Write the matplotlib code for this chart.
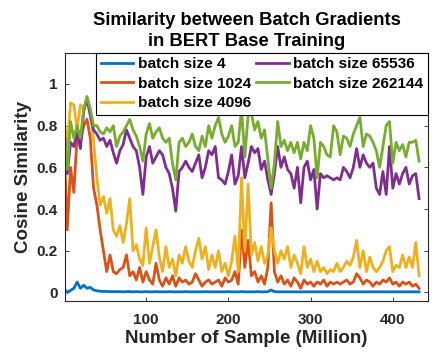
import numpy as np
import matplotlib.pyplot as plt

plt.rcParams['font.family'] = ['Liberation Sans', 'DejaVu Sans']
plt.rcParams['font.weight'] = 'bold'

# samples (million), one reading every 4 million
samples = list(range(0, 433, 4))

bs4 = [0.02, 0.0, 0.01, 0.02, 0.05, 0.02, 0.035, 0.02, 0.025, 0.012,
       0.008, 0.006, 0.005, 0.005, 0.004, 0.004, 0.004, 0.004, 0.003, 0.004,
       0.004, 0.003, 0.004, 0.003, 0.003, 0.004, 0.003, 0.003, 0.004, 0.003,
       0.003, 0.003, 0.004, 0.003, 0.003, 0.003, 0.003, 0.004, 0.003, 0.003,
       0.003, 0.003, 0.003, 0.004, 0.003, 0.003, 0.003, 0.003, 0.003, 0.003,
       0.004, 0.003, 0.003, 0.003, 0.004, 0.003, 0.003, 0.003, 0.003, 0.004,
       0.003, 0.003, 0.004, 0.012, 0.004, 0.003, 0.003, 0.003, 0.003, 0.003,
       0.003, 0.003, 0.003, 0.003, 0.003, 0.003, 0.003, 0.003, 0.003, 0.003,
       0.003, 0.003, 0.003, 0.003, 0.003, 0.003, 0.003, 0.003, 0.003, 0.003,
       0.003, 0.003, 0.003, 0.003, 0.003, 0.003, 0.003, 0.003, 0.003, 0.003,
       0.003, 0.003, 0.003, 0.003, 0.003, 0.003, 0.003, 0.003, 0.003]

bs1024 = [0.72, 0.3, 0.6, 0.48, 0.75, 0.72, 0.8, 0.83, 0.74, 0.5,
          0.42, 0.3, 0.2, 0.1, 0.18, 0.1, 0.09, 0.11, 0.12, 0.18,
          0.08, 0.1, 0.06, 0.12, 0.05, 0.1, 0.06, 0.04, 0.14, 0.06,
          0.03, 0.07, 0.04, 0.08, 0.03, 0.07, 0.05, 0.06, 0.04, 0.05,
          0.09, 0.06, 0.03, 0.05, 0.06, 0.04, 0.05, 0.06, 0.03, 0.07,
          0.05, 0.06, 0.1, 0.04, 0.3, 0.12, 0.25, 0.08, 0.1, 0.05,
          0.08, 0.04, 0.12, 0.43, 0.1, 0.05, 0.08, 0.04, 0.06, 0.03,
          0.07, 0.05, 0.02, 0.06, 0.04, 0.05, 0.03, 0.05, 0.04, 0.06,
          0.03, 0.05, 0.04, 0.05, 0.04, 0.05, 0.06, 0.04, 0.05, 0.09,
          0.07, 0.04, 0.06, 0.05, 0.03, 0.05, 0.04, 0.06, 0.05, 0.07,
          0.04, 0.05, 0.03, 0.05, 0.04, 0.05, 0.03, 0.04, 0.02]

bs4096 = [0.84, 0.7, 0.91, 0.9, 0.78, 0.9, 0.88, 0.93, 0.86, 0.73,
          0.55, 0.42, 0.46, 0.38, 0.45, 0.3, 0.27, 0.32, 0.24, 0.33,
          0.45, 0.2, 0.23, 0.16, 0.13, 0.31, 0.14, 0.22, 0.3, 0.17,
          0.1, 0.22, 0.12, 0.16, 0.08, 0.18, 0.14, 0.22, 0.15, 0.12,
          0.2, 0.26, 0.16, 0.22, 0.11, 0.18, 0.12, 0.2, 0.1, 0.14,
          0.08, 0.15, 0.27, 0.1, 0.55, 0.2, 0.52, 0.18, 0.24, 0.15,
          0.22, 0.14, 0.18, 0.31, 0.2, 0.14, 0.2, 0.16, 0.22, 0.12,
          0.18, 0.14, 0.09, 0.22, 0.12, 0.16, 0.1, 0.15, 0.1, 0.12,
          0.09, 0.11, 0.1, 0.14, 0.1, 0.12, 0.15, 0.13, 0.17, 0.25,
          0.12, 0.2, 0.1, 0.17, 0.12, 0.1, 0.12, 0.15, 0.2, 0.22,
          0.1, 0.13, 0.12, 0.18, 0.12, 0.17, 0.12, 0.24, 0.08]

bs65536 = [0.8, 0.57, 0.72, 0.7, 0.77, 0.69, 0.87, 0.93, 0.85, 0.78,
           0.76, 0.73, 0.74, 0.7, 0.73, 0.67, 0.62, 0.68, 0.71, 0.78,
           0.74, 0.7, 0.68, 0.6, 0.47, 0.65, 0.7, 0.62, 0.65, 0.68,
           0.66, 0.6, 0.57, 0.5, 0.39, 0.58, 0.6, 0.63, 0.6, 0.58,
           0.62, 0.66, 0.55, 0.6, 0.68, 0.66, 0.7, 0.55, 0.54, 0.52,
           0.58, 0.66, 0.52, 0.56, 0.7, 0.55, 0.62, 0.7, 0.67, 0.69,
           0.59, 0.63, 0.54, 0.47, 0.57, 0.7, 0.6, 0.65, 0.59, 0.57,
           0.5, 0.6, 0.43, 0.6, 0.63, 0.54, 0.59, 0.4, 0.57, 0.55,
           0.56, 0.55, 0.54, 0.55, 0.54, 0.6, 0.58, 0.55, 0.6, 0.69,
           0.6, 0.66, 0.62, 0.6, 0.62, 0.5, 0.47, 0.58, 0.47, 0.7,
           0.5, 0.57, 0.52, 0.57, 0.6, 0.52, 0.56, 0.57, 0.45]

bs262144 = [0.78, 0.59, 0.82, 0.74, 0.8, 0.74, 0.88, 0.94, 0.88, 0.8,
            0.8, 0.77, 0.76, 0.79, 0.77, 0.8, 0.7, 0.75, 0.77, 0.8,
            0.83, 0.78, 0.75, 0.7, 0.63, 0.76, 0.81, 0.74, 0.77, 0.79,
            0.74, 0.72, 0.74, 0.62, 0.54, 0.72, 0.74, 0.7, 0.72, 0.76,
            0.7, 0.68, 0.75, 0.7, 0.8, 0.74, 0.8, 0.84, 0.76, 0.72,
            0.75, 0.8, 0.7, 0.72, 0.88, 0.65, 0.85, 0.86, 0.78, 0.82,
            0.74, 0.78, 0.64, 0.5, 0.62, 0.82, 0.7, 0.73, 0.68, 0.72,
            0.67, 0.72, 0.64, 0.72, 0.68, 0.8, 0.74, 0.55, 0.72, 0.7,
            0.66, 0.65, 0.8, 0.77, 0.66, 0.75, 0.74, 0.7, 0.76, 0.8,
            0.84, 0.7, 0.76, 0.75, 0.72, 0.68, 0.6, 0.7, 0.8, 0.82,
            0.62, 0.72, 0.68, 0.71, 0.65, 0.72, 0.72, 0.73, 0.63]

series = [("batch size 4", bs4, (0, 0.447, 0.741)),
          ("batch size 1024", bs1024, (0.85, 0.325, 0.098)),
          ("batch size 4096", bs4096, (0.929, 0.694, 0.125)),
          ("batch size 65536", bs65536, (0.494, 0.184, 0.556)),
          ("batch size 262144", bs262144, (0.466, 0.674, 0.188))]

fig = plt.figure(figsize=(4.32, 3.56), dpi=100)
ax = fig.add_axes([0.150, 0.155, 0.841, 0.697])

for label, vals, col in series:
    ax.plot(samples, vals, color=col, linewidth=2, label=label)

ax.set_xlim(1, 443)
ax.set_ylim(-0.04, 1.15)
ax.set_xticks([100, 200, 300, 400])
ax.set_yticks([0, 0.2, 0.4, 0.6, 0.8, 1])
ax.set_yticklabels(["0", "0.2", "0.4", "0.6", "0.8", "1"])

gray = (0.15, 0.15, 0.15)
for s in ax.spines.values():
    s.set_color(gray)
    s.set_linewidth(0.8)
ax.tick_params(direction='in', top=True, right=True, length=3, width=0.6,
               colors=gray, labelsize=11)
ax.tick_params(axis='x', pad=9)
ax.tick_params(axis='y', pad=5)
for t in ax.get_xticklabels() + ax.get_yticklabels():
    t.set_fontweight('bold')

ax.set_xlabel("Number of Sample (Million)", fontsize=13.5, fontweight='bold', color=gray, labelpad=2)
ax.set_ylabel("Cosine Similarity", fontsize=13.5, fontweight='bold', color=gray, labelpad=3)
ax.set_title("Similarity between Batch Gradients\nin BERT Base Training",
             fontsize=13.2, fontweight='bold', linespacing=1.3, pad=5)

leg = ax.legend(loc='upper right', ncol=2, fontsize=11.1, frameon=True, fancybox=False,
                borderaxespad=0, handlelength=2.1, handletextpad=0.3, columnspacing=0.35,
                labelspacing=0.35, borderpad=0.3, framealpha=1)
leg.get_frame().set_edgecolor('black')
leg.get_frame().set_linewidth(0.8)
for t in leg.get_texts():
    t.set_fontweight('bold')

fig.savefig("out.png", dpi=100)
